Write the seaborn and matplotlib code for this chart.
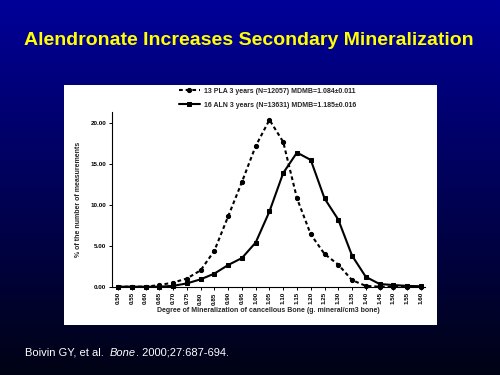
import numpy as np
import pandas as pd
import seaborn as sns
import matplotlib.pyplot as plt
from matplotlib.patches import Rectangle

sns.set_style("ticks")
plt.rcParams['font.family'] = ['Liberation Sans', 'DejaVu Sans']

# bins of mineralization (g mineral / cm3 bone)
bins = [0.50, 0.55, 0.60, 0.65, 0.70, 0.75, 0.80, 0.85, 0.90, 0.95, 1.00, 1.05,
        1.10, 1.15, 1.20, 1.25, 1.30, 1.35, 1.40, 1.45, 1.50, 1.55, 1.60]
# % of the number of measurements
pla = [0, 0, 0, 0.2, 0.5, 1.0, 2.0, 4.4, 8.6, 12.8, 17.2, 20.4,
       17.7, 10.8, 6.4, 4.0, 2.7, 0.8, 0.1, 0, 0, 0, 0]
aln = [0, 0, 0, 0, 0.1, 0.4, 0.9, 1.6, 2.65, 3.5, 5.4, 9.2,
       13.9, 16.4, 15.5, 10.8, 8.2, 3.8, 1.2, 0.33, 0.2, 0.1, 0.05]
pla_label = "13 PLA 3 years (N=12057) MDMB=1.084\u00b10.011"
aln_label = "16 ALN 3 years (N=13631) MDMB=1.185\u00b10.016"
yticks = [0, 5, 10, 15, 20]

df = pd.DataFrame({"bin": bins, "pla": pla, "aln": aln})

fig = plt.figure(figsize=(5, 3.75), dpi=100)

# slide background: blue gradient
bg = fig.add_axes([0, 0, 1, 1], zorder=-2)
grad = np.linspace(0, 1, 256).reshape(-1, 1)
blues = np.zeros((256, 1, 3))
blues[:, 0, 2] = 0.60 - 0.52 * grad[:, 0]
blues[:, 0, 1] = 0.01 * grad[:, 0]
bg.imshow(blues, aspect='auto', extent=[0, 1, 0, 1])
bg.set_axis_off()

# white panel behind the chart
fig.patches.append(Rectangle((0.128, 0.1333), 0.746, 0.64, transform=fig.transFigure,
                             facecolor='white', edgecolor='none', zorder=-1))

fig.text(0.498, 0.893, "Alendronate Increases Secondary Mineralization",
         color='#ffff00', fontsize=14, fontweight='bold', ha='center', va='center')

ax = fig.add_axes([0.2234, 0.2355, 0.6266, 0.4667])
ax.set_facecolor('white')

sns.lineplot(data=df, x="bin", y="pla", ax=ax, color='black', linestyle=(0, (1.8, 1.4)),
             linewidth=1.5, marker='o', markersize=3, markeredgecolor='black',
             label=pla_label, clip_on=False)
sns.lineplot(data=df, x="bin", y="aln", ax=ax, color='black', linestyle='-',
             linewidth=1.5, marker='s', markersize=3.5, markeredgecolor='black',
             label=aln_label, clip_on=False)

ax.set_xlim(0.477, 1.615)
ax.set_ylim(0, 21.4)
ax.set_xticks(bins)
ax.set_xticklabels([f"{b:.2f}" for b in bins], rotation=90, fontsize=4.5, fontweight='bold')
ax.set_yticks(yticks)
ax.set_yticklabels([f"{v:.2f}" for v in yticks], fontsize=4.5, fontweight='bold')
ax.tick_params(length=2.5, width=0.7, pad=1.5, colors='black')
sns.despine(ax=ax)
for s in ['left', 'bottom']:
    ax.spines[s].set_linewidth(0.8)
    ax.spines[s].set_color('black')

ax.set_xlabel("Degree of Mineralization of cancellous Bone (g. mineral/cm3 bone)",
              fontsize=5, fontweight='bold', labelpad=2)
ax.set_ylabel("% of the number of measurements", fontsize=5, fontweight='bold', labelpad=6)

ax.legend(loc='center', bbox_to_anchor=(0.535, 0.738), bbox_transform=fig.transFigure,
          frameon=False, prop={'size': 5, 'weight': 'bold'}, handlelength=3.0,
          handletextpad=0.6, labelspacing=1.0)

t1 = fig.text(0.05, 0.06, "Boivin GY, et al.  ", color='white', fontsize=8, va='center')
t2 = ax.annotate("Bone", xy=(1, 0), xycoords=t1, va='bottom', color='white',
                 fontsize=8, style='italic', annotation_clip=False)
ax.annotate(". 2000;27:687-694.", xy=(1, 0), xycoords=t2, va='bottom', color='white',
            fontsize=8, annotation_clip=False)

fig.savefig("out.png", dpi=100)
